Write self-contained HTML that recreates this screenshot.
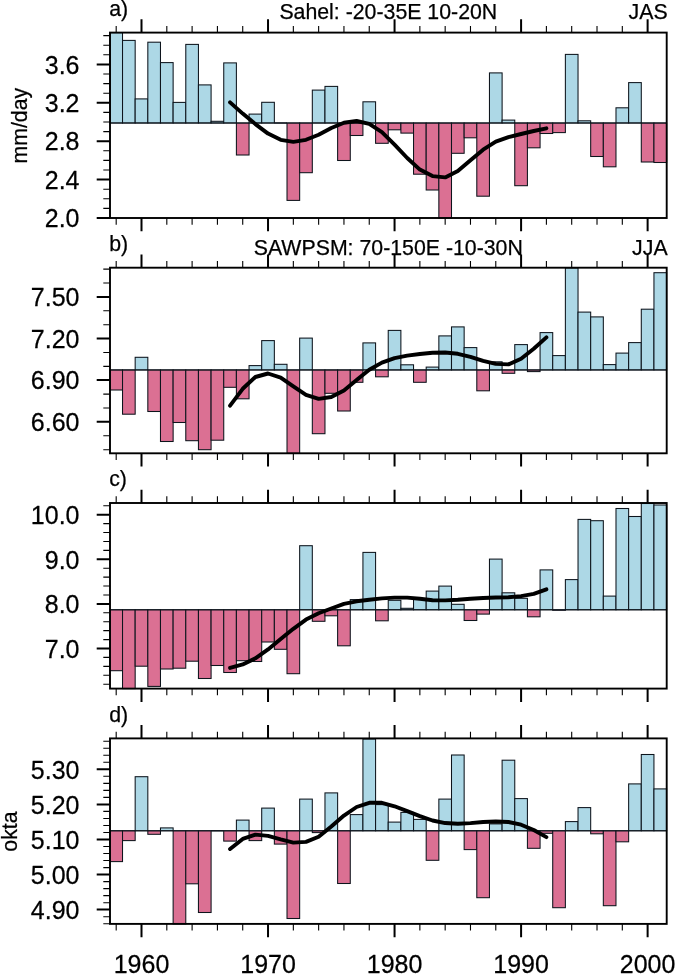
<!DOCTYPE html>
<html><head><meta charset="utf-8"><title>chart</title>
<style>
html,body{margin:0;padding:0;background:#fff;}
body{width:675px;height:974px;overflow:hidden;}
svg{display:block;will-change:transform;font-family:"Liberation Sans",sans-serif;fill:#000;}
text{stroke:#000;stroke-width:0.25px;stroke-linejoin:round;}
</style></head><body>
<svg width="675" height="974" viewBox="0 0 675 974">
<rect x="0" y="0" width="675" height="974" fill="#fff"/>
<g>
<rect x="110.00" y="32.60" width="12.52" height="90.40" fill="#add8e6" stroke="#0d141c" stroke-width="1.05"/>
<rect x="122.52" y="40.40" width="12.65" height="82.60" fill="#add8e6" stroke="#0d141c" stroke-width="1.05"/>
<rect x="135.17" y="98.90" width="12.65" height="24.10" fill="#add8e6" stroke="#0d141c" stroke-width="1.05"/>
<rect x="147.83" y="42.20" width="12.65" height="80.80" fill="#add8e6" stroke="#0d141c" stroke-width="1.05"/>
<rect x="160.48" y="62.60" width="12.65" height="60.40" fill="#add8e6" stroke="#0d141c" stroke-width="1.05"/>
<rect x="173.13" y="102.40" width="12.65" height="20.60" fill="#add8e6" stroke="#0d141c" stroke-width="1.05"/>
<rect x="185.79" y="44.40" width="12.65" height="78.60" fill="#add8e6" stroke="#0d141c" stroke-width="1.05"/>
<rect x="198.44" y="84.90" width="12.65" height="38.10" fill="#add8e6" stroke="#0d141c" stroke-width="1.05"/>
<rect x="211.09" y="121.30" width="12.65" height="1.70" fill="#add8e6" stroke="#0d141c" stroke-width="1.05"/>
<rect x="223.74" y="62.90" width="12.65" height="60.10" fill="#add8e6" stroke="#0d141c" stroke-width="1.05"/>
<rect x="236.40" y="123.00" width="12.65" height="32.00" fill="#db7093" stroke="#0d141c" stroke-width="1.05"/>
<rect x="249.05" y="114.10" width="12.65" height="8.90" fill="#add8e6" stroke="#0d141c" stroke-width="1.05"/>
<rect x="261.70" y="102.30" width="12.65" height="20.70" fill="#add8e6" stroke="#0d141c" stroke-width="1.05"/>
<line x1="274.36" y1="123.00" x2="287.01" y2="123.00" stroke="#0d141c" stroke-width="1.4"/>
<rect x="287.01" y="123.00" width="12.65" height="77.40" fill="#db7093" stroke="#0d141c" stroke-width="1.05"/>
<rect x="299.66" y="123.00" width="12.65" height="49.70" fill="#db7093" stroke="#0d141c" stroke-width="1.05"/>
<rect x="312.32" y="90.10" width="12.65" height="32.90" fill="#add8e6" stroke="#0d141c" stroke-width="1.05"/>
<rect x="324.97" y="86.40" width="12.65" height="36.60" fill="#add8e6" stroke="#0d141c" stroke-width="1.05"/>
<rect x="337.62" y="123.00" width="12.65" height="37.50" fill="#db7093" stroke="#0d141c" stroke-width="1.05"/>
<rect x="350.27" y="123.00" width="12.65" height="12.50" fill="#db7093" stroke="#0d141c" stroke-width="1.05"/>
<rect x="362.93" y="101.80" width="12.65" height="21.20" fill="#add8e6" stroke="#0d141c" stroke-width="1.05"/>
<rect x="375.58" y="123.00" width="12.65" height="20.30" fill="#db7093" stroke="#0d141c" stroke-width="1.05"/>
<rect x="388.23" y="123.00" width="12.65" height="6.80" fill="#db7093" stroke="#0d141c" stroke-width="1.05"/>
<rect x="400.89" y="123.00" width="12.65" height="10.10" fill="#db7093" stroke="#0d141c" stroke-width="1.05"/>
<rect x="413.54" y="123.00" width="12.65" height="51.20" fill="#db7093" stroke="#0d141c" stroke-width="1.05"/>
<rect x="426.19" y="123.00" width="12.65" height="67.00" fill="#db7093" stroke="#0d141c" stroke-width="1.05"/>
<rect x="438.85" y="123.00" width="12.65" height="95.00" fill="#db7093" stroke="#0d141c" stroke-width="1.05"/>
<rect x="451.50" y="123.00" width="12.65" height="30.30" fill="#db7093" stroke="#0d141c" stroke-width="1.05"/>
<rect x="464.15" y="123.00" width="12.65" height="14.80" fill="#db7093" stroke="#0d141c" stroke-width="1.05"/>
<rect x="476.80" y="123.00" width="12.65" height="73.20" fill="#db7093" stroke="#0d141c" stroke-width="1.05"/>
<rect x="489.46" y="72.90" width="12.65" height="50.10" fill="#add8e6" stroke="#0d141c" stroke-width="1.05"/>
<rect x="502.11" y="120.10" width="12.65" height="2.90" fill="#add8e6" stroke="#0d141c" stroke-width="1.05"/>
<rect x="514.76" y="123.00" width="12.65" height="62.70" fill="#db7093" stroke="#0d141c" stroke-width="1.05"/>
<rect x="527.42" y="123.00" width="12.65" height="24.80" fill="#db7093" stroke="#0d141c" stroke-width="1.05"/>
<rect x="540.07" y="123.00" width="12.65" height="10.50" fill="#db7093" stroke="#0d141c" stroke-width="1.05"/>
<rect x="552.72" y="123.00" width="12.65" height="9.60" fill="#db7093" stroke="#0d141c" stroke-width="1.05"/>
<rect x="565.38" y="54.40" width="12.65" height="68.60" fill="#add8e6" stroke="#0d141c" stroke-width="1.05"/>
<rect x="578.03" y="120.80" width="12.65" height="2.20" fill="#add8e6" stroke="#0d141c" stroke-width="1.05"/>
<rect x="590.68" y="123.00" width="12.65" height="33.50" fill="#db7093" stroke="#0d141c" stroke-width="1.05"/>
<rect x="603.33" y="123.00" width="12.65" height="43.80" fill="#db7093" stroke="#0d141c" stroke-width="1.05"/>
<rect x="615.99" y="107.80" width="12.65" height="15.20" fill="#add8e6" stroke="#0d141c" stroke-width="1.05"/>
<rect x="628.64" y="82.60" width="12.65" height="40.40" fill="#add8e6" stroke="#0d141c" stroke-width="1.05"/>
<rect x="641.29" y="123.00" width="12.65" height="39.00" fill="#db7093" stroke="#0d141c" stroke-width="1.05"/>
<rect x="653.95" y="123.00" width="12.65" height="39.50" fill="#db7093" stroke="#0d141c" stroke-width="1.05"/>
<line x1="110.0" y1="123.00" x2="666.7" y2="123.00" stroke="#0d141c" stroke-width="1.05"/>
<path d="M230.07 102.40 L242.72 113.60 L255.38 124.10 L268.03 133.60 L280.68 139.80 L293.34 141.90 L305.99 139.80 L318.64 134.80 L331.30 128.00 L343.95 122.80 L356.60 121.00 L369.25 123.90 L381.91 132.20 L394.56 144.70 L407.21 158.00 L419.87 169.60 L432.52 176.10 L445.17 177.40 L457.82 171.00 L470.48 160.30 L483.13 149.70 L495.78 141.70 L508.44 137.20 L521.09 134.00 L533.74 131.00 L546.40 128.30" fill="none" stroke="#000" stroke-width="3.9" stroke-linecap="round" stroke-linejoin="round"/>
<rect x="110.00" y="32.60" width="556.70" height="185.40" fill="none" stroke="#000" stroke-width="1.90"/>
<path d="M141.50 32.60v-13.30M141.50 218.00v13.30M268.03 32.60v-13.30M268.03 218.00v13.30M394.56 32.60v-13.30M394.56 218.00v13.30M521.09 32.60v-13.30M521.09 218.00v13.30M647.62 32.60v-13.30M647.62 218.00v13.30M110.00 64.40h-13.30M110.00 102.80h-13.30M110.00 141.20h-13.30M110.00 179.60h-13.30M110.00 218.00h-13.30" fill="none" stroke="#000" stroke-width="2.00"/>
<path d="M116.19 32.60v-6.70M116.19 218.00v6.70M166.81 32.60v-6.70M166.81 218.00v6.70M192.11 32.60v-6.70M192.11 218.00v6.70M217.42 32.60v-6.70M217.42 218.00v6.70M242.72 32.60v-6.70M242.72 218.00v6.70M293.34 32.60v-6.70M293.34 218.00v6.70M318.64 32.60v-6.70M318.64 218.00v6.70M343.95 32.60v-6.70M343.95 218.00v6.70M369.25 32.60v-6.70M369.25 218.00v6.70M419.87 32.60v-6.70M419.87 218.00v6.70M445.17 32.60v-6.70M445.17 218.00v6.70M470.48 32.60v-6.70M470.48 218.00v6.70M495.78 32.60v-6.70M495.78 218.00v6.70M546.40 32.60v-6.70M546.40 218.00v6.70M571.70 32.60v-6.70M571.70 218.00v6.70M597.01 32.60v-6.70M597.01 218.00v6.70M622.31 32.60v-6.70M622.31 218.00v6.70M110.00 35.60h-6.70M110.00 45.20h-6.70M110.00 54.80h-6.70M110.00 74.00h-6.70M110.00 83.60h-6.70M110.00 93.20h-6.70M110.00 112.40h-6.70M110.00 122.00h-6.70M110.00 131.60h-6.70M110.00 150.80h-6.70M110.00 160.40h-6.70M110.00 170.00h-6.70M110.00 189.20h-6.70M110.00 198.80h-6.70M110.00 208.40h-6.70" fill="none" stroke="#000" stroke-width="1.10"/>
<text transform="translate(79.5 73.65) scale(1 1.035)" font-size="25" text-anchor="end">3.6</text>
<text transform="translate(79.5 112.05) scale(1 1.035)" font-size="25" text-anchor="end">3.2</text>
<text transform="translate(79.5 150.45) scale(1 1.035)" font-size="25" text-anchor="end">2.8</text>
<text transform="translate(79.5 188.85) scale(1 1.035)" font-size="25" text-anchor="end">2.4</text>
<text transform="translate(79.5 227.25) scale(1 1.035)" font-size="25" text-anchor="end">2.0</text>
</g>
<g>
<rect x="110.00" y="369.90" width="12.52" height="20.10" fill="#db7093" stroke="#0d141c" stroke-width="1.05"/>
<rect x="122.52" y="369.90" width="12.65" height="44.30" fill="#db7093" stroke="#0d141c" stroke-width="1.05"/>
<rect x="135.17" y="357.30" width="12.65" height="12.60" fill="#add8e6" stroke="#0d141c" stroke-width="1.05"/>
<rect x="147.83" y="369.90" width="12.65" height="41.60" fill="#db7093" stroke="#0d141c" stroke-width="1.05"/>
<rect x="160.48" y="369.90" width="12.65" height="71.60" fill="#db7093" stroke="#0d141c" stroke-width="1.05"/>
<rect x="173.13" y="369.90" width="12.65" height="52.60" fill="#db7093" stroke="#0d141c" stroke-width="1.05"/>
<rect x="185.79" y="369.90" width="12.65" height="70.80" fill="#db7093" stroke="#0d141c" stroke-width="1.05"/>
<rect x="198.44" y="369.90" width="12.65" height="79.80" fill="#db7093" stroke="#0d141c" stroke-width="1.05"/>
<rect x="211.09" y="369.90" width="12.65" height="70.30" fill="#db7093" stroke="#0d141c" stroke-width="1.05"/>
<rect x="223.74" y="369.90" width="12.65" height="17.40" fill="#db7093" stroke="#0d141c" stroke-width="1.05"/>
<rect x="236.40" y="369.90" width="12.65" height="28.90" fill="#db7093" stroke="#0d141c" stroke-width="1.05"/>
<rect x="249.05" y="365.60" width="12.65" height="4.30" fill="#add8e6" stroke="#0d141c" stroke-width="1.05"/>
<rect x="261.70" y="340.60" width="12.65" height="29.30" fill="#add8e6" stroke="#0d141c" stroke-width="1.05"/>
<rect x="274.36" y="364.30" width="12.65" height="5.60" fill="#add8e6" stroke="#0d141c" stroke-width="1.05"/>
<rect x="287.01" y="369.90" width="12.65" height="83.40" fill="#db7093" stroke="#0d141c" stroke-width="1.05"/>
<rect x="299.66" y="338.10" width="12.65" height="31.80" fill="#add8e6" stroke="#0d141c" stroke-width="1.05"/>
<rect x="312.32" y="369.90" width="12.65" height="63.80" fill="#db7093" stroke="#0d141c" stroke-width="1.05"/>
<rect x="324.97" y="369.90" width="12.65" height="23.40" fill="#db7093" stroke="#0d141c" stroke-width="1.05"/>
<rect x="337.62" y="369.90" width="12.65" height="41.10" fill="#db7093" stroke="#0d141c" stroke-width="1.05"/>
<rect x="350.27" y="369.90" width="12.65" height="12.40" fill="#db7093" stroke="#0d141c" stroke-width="1.05"/>
<rect x="362.93" y="342.90" width="12.65" height="27.00" fill="#add8e6" stroke="#0d141c" stroke-width="1.05"/>
<rect x="375.58" y="369.90" width="12.65" height="6.90" fill="#db7093" stroke="#0d141c" stroke-width="1.05"/>
<rect x="388.23" y="330.40" width="12.65" height="39.50" fill="#add8e6" stroke="#0d141c" stroke-width="1.05"/>
<rect x="400.89" y="364.80" width="12.65" height="5.10" fill="#add8e6" stroke="#0d141c" stroke-width="1.05"/>
<rect x="413.54" y="369.90" width="12.65" height="12.40" fill="#db7093" stroke="#0d141c" stroke-width="1.05"/>
<rect x="426.19" y="367.10" width="12.65" height="2.80" fill="#add8e6" stroke="#0d141c" stroke-width="1.05"/>
<rect x="438.85" y="335.90" width="12.65" height="34.00" fill="#add8e6" stroke="#0d141c" stroke-width="1.05"/>
<rect x="451.50" y="326.90" width="12.65" height="43.00" fill="#add8e6" stroke="#0d141c" stroke-width="1.05"/>
<rect x="464.15" y="347.60" width="12.65" height="22.30" fill="#add8e6" stroke="#0d141c" stroke-width="1.05"/>
<rect x="476.80" y="369.90" width="12.65" height="20.90" fill="#db7093" stroke="#0d141c" stroke-width="1.05"/>
<rect x="489.46" y="361.80" width="12.65" height="8.10" fill="#add8e6" stroke="#0d141c" stroke-width="1.05"/>
<rect x="502.11" y="369.90" width="12.65" height="3.40" fill="#db7093" stroke="#0d141c" stroke-width="1.05"/>
<rect x="514.76" y="344.60" width="12.65" height="25.30" fill="#add8e6" stroke="#0d141c" stroke-width="1.05"/>
<rect x="527.42" y="369.90" width="12.65" height="1.70" fill="#db7093" stroke="#0d141c" stroke-width="1.05"/>
<rect x="540.07" y="332.60" width="12.65" height="37.30" fill="#add8e6" stroke="#0d141c" stroke-width="1.05"/>
<rect x="552.72" y="355.60" width="12.65" height="14.30" fill="#add8e6" stroke="#0d141c" stroke-width="1.05"/>
<rect x="565.38" y="267.90" width="12.65" height="102.00" fill="#add8e6" stroke="#0d141c" stroke-width="1.05"/>
<rect x="578.03" y="312.10" width="12.65" height="57.80" fill="#add8e6" stroke="#0d141c" stroke-width="1.05"/>
<rect x="590.68" y="316.90" width="12.65" height="53.00" fill="#add8e6" stroke="#0d141c" stroke-width="1.05"/>
<rect x="603.33" y="364.60" width="12.65" height="5.30" fill="#add8e6" stroke="#0d141c" stroke-width="1.05"/>
<rect x="615.99" y="353.10" width="12.65" height="16.80" fill="#add8e6" stroke="#0d141c" stroke-width="1.05"/>
<rect x="628.64" y="342.60" width="12.65" height="27.30" fill="#add8e6" stroke="#0d141c" stroke-width="1.05"/>
<rect x="641.29" y="309.20" width="12.65" height="60.70" fill="#add8e6" stroke="#0d141c" stroke-width="1.05"/>
<rect x="653.95" y="272.70" width="12.65" height="97.20" fill="#add8e6" stroke="#0d141c" stroke-width="1.05"/>
<line x1="110.0" y1="369.90" x2="666.7" y2="369.90" stroke="#0d141c" stroke-width="1.05"/>
<path d="M230.07 405.60 L242.72 388.80 L255.38 377.00 L268.03 373.50 L280.68 377.60 L293.34 386.40 L305.99 394.80 L318.64 398.90 L331.30 397.00 L343.95 390.50 L356.60 380.00 L369.25 369.70 L381.91 362.60 L394.56 358.10 L407.21 355.60 L419.87 354.00 L432.52 352.80 L445.17 352.45 L457.82 353.80 L470.48 356.80 L483.13 360.90 L495.78 363.90 L508.44 364.40 L521.09 358.80 L533.74 348.80 L546.40 337.40" fill="none" stroke="#000" stroke-width="3.9" stroke-linecap="round" stroke-linejoin="round"/>
<rect x="110.00" y="267.70" width="556.70" height="185.60" fill="none" stroke="#000" stroke-width="1.90"/>
<path d="M141.50 267.70v-13.30M141.50 453.30v13.30M268.03 267.70v-13.30M268.03 453.30v13.30M394.56 267.70v-13.30M394.56 453.30v13.30M521.09 267.70v-13.30M521.09 453.30v13.30M647.62 267.70v-13.30M647.62 453.30v13.30M110.00 296.90h-13.30M110.00 338.50h-13.30M110.00 380.10h-13.30M110.00 421.80h-13.30" fill="none" stroke="#000" stroke-width="2.00"/>
<path d="M116.19 267.70v-6.70M116.19 453.30v6.70M166.81 267.70v-6.70M166.81 453.30v6.70M192.11 267.70v-6.70M192.11 453.30v6.70M217.42 267.70v-6.70M217.42 453.30v6.70M242.72 267.70v-6.70M242.72 453.30v6.70M293.34 267.70v-6.70M293.34 453.30v6.70M318.64 267.70v-6.70M318.64 453.30v6.70M343.95 267.70v-6.70M343.95 453.30v6.70M369.25 267.70v-6.70M369.25 453.30v6.70M419.87 267.70v-6.70M419.87 453.30v6.70M445.17 267.70v-6.70M445.17 453.30v6.70M470.48 267.70v-6.70M470.48 453.30v6.70M495.78 267.70v-6.70M495.78 453.30v6.70M546.40 267.70v-6.70M546.40 453.30v6.70M571.70 267.70v-6.70M571.70 453.30v6.70M597.01 267.70v-6.70M597.01 453.30v6.70M622.31 267.70v-6.70M622.31 453.30v6.70M110.00 269.12h-6.70M110.00 283.01h-6.70M110.00 310.79h-6.70M110.00 324.68h-6.70M110.00 352.46h-6.70M110.00 366.35h-6.70M110.00 394.13h-6.70M110.00 408.02h-6.70M110.00 435.80h-6.70M110.00 449.69h-6.70" fill="none" stroke="#000" stroke-width="1.10"/>
<text transform="translate(79.5 306.15) scale(1 1.035)" font-size="25" text-anchor="end">7.50</text>
<text transform="translate(79.5 347.75) scale(1 1.035)" font-size="25" text-anchor="end">7.20</text>
<text transform="translate(79.5 389.35) scale(1 1.035)" font-size="25" text-anchor="end">6.90</text>
<text transform="translate(79.5 431.05) scale(1 1.035)" font-size="25" text-anchor="end">6.60</text>
</g>
<g>
<rect x="110.00" y="609.80" width="12.52" height="60.90" fill="#db7093" stroke="#0d141c" stroke-width="1.05"/>
<rect x="122.52" y="609.80" width="12.65" height="78.80" fill="#db7093" stroke="#0d141c" stroke-width="1.05"/>
<rect x="135.17" y="609.80" width="12.65" height="56.40" fill="#db7093" stroke="#0d141c" stroke-width="1.05"/>
<rect x="147.83" y="609.80" width="12.65" height="76.60" fill="#db7093" stroke="#0d141c" stroke-width="1.05"/>
<rect x="160.48" y="609.80" width="12.65" height="59.20" fill="#db7093" stroke="#0d141c" stroke-width="1.05"/>
<rect x="173.13" y="609.80" width="12.65" height="58.40" fill="#db7093" stroke="#0d141c" stroke-width="1.05"/>
<rect x="185.79" y="609.80" width="12.65" height="51.40" fill="#db7093" stroke="#0d141c" stroke-width="1.05"/>
<rect x="198.44" y="609.80" width="12.65" height="68.70" fill="#db7093" stroke="#0d141c" stroke-width="1.05"/>
<rect x="211.09" y="609.80" width="12.65" height="55.70" fill="#db7093" stroke="#0d141c" stroke-width="1.05"/>
<rect x="223.74" y="609.80" width="12.65" height="62.70" fill="#db7093" stroke="#0d141c" stroke-width="1.05"/>
<rect x="236.40" y="609.80" width="12.65" height="50.90" fill="#db7093" stroke="#0d141c" stroke-width="1.05"/>
<rect x="249.05" y="609.80" width="12.65" height="51.70" fill="#db7093" stroke="#0d141c" stroke-width="1.05"/>
<rect x="261.70" y="609.80" width="12.65" height="32.20" fill="#db7093" stroke="#0d141c" stroke-width="1.05"/>
<rect x="274.36" y="609.80" width="12.65" height="39.50" fill="#db7093" stroke="#0d141c" stroke-width="1.05"/>
<rect x="287.01" y="609.80" width="12.65" height="63.90" fill="#db7093" stroke="#0d141c" stroke-width="1.05"/>
<rect x="299.66" y="545.70" width="12.65" height="64.10" fill="#add8e6" stroke="#0d141c" stroke-width="1.05"/>
<rect x="312.32" y="609.80" width="12.65" height="11.50" fill="#db7093" stroke="#0d141c" stroke-width="1.05"/>
<rect x="324.97" y="609.80" width="12.65" height="6.00" fill="#db7093" stroke="#0d141c" stroke-width="1.05"/>
<rect x="337.62" y="609.80" width="12.65" height="36.00" fill="#db7093" stroke="#0d141c" stroke-width="1.05"/>
<rect x="350.27" y="599.60" width="12.65" height="10.20" fill="#add8e6" stroke="#0d141c" stroke-width="1.05"/>
<rect x="362.93" y="552.40" width="12.65" height="57.40" fill="#add8e6" stroke="#0d141c" stroke-width="1.05"/>
<rect x="375.58" y="609.80" width="12.65" height="11.00" fill="#db7093" stroke="#0d141c" stroke-width="1.05"/>
<rect x="388.23" y="600.30" width="12.65" height="9.50" fill="#add8e6" stroke="#0d141c" stroke-width="1.05"/>
<rect x="400.89" y="608.30" width="12.65" height="1.50" fill="#add8e6" stroke="#0d141c" stroke-width="1.05"/>
<rect x="413.54" y="598.80" width="12.65" height="11.00" fill="#add8e6" stroke="#0d141c" stroke-width="1.05"/>
<rect x="426.19" y="591.10" width="12.65" height="18.70" fill="#add8e6" stroke="#0d141c" stroke-width="1.05"/>
<rect x="438.85" y="586.10" width="12.65" height="23.70" fill="#add8e6" stroke="#0d141c" stroke-width="1.05"/>
<rect x="451.50" y="604.30" width="12.65" height="5.50" fill="#add8e6" stroke="#0d141c" stroke-width="1.05"/>
<rect x="464.15" y="609.80" width="12.65" height="10.70" fill="#db7093" stroke="#0d141c" stroke-width="1.05"/>
<rect x="476.80" y="609.80" width="12.65" height="4.30" fill="#db7093" stroke="#0d141c" stroke-width="1.05"/>
<rect x="489.46" y="559.10" width="12.65" height="50.70" fill="#add8e6" stroke="#0d141c" stroke-width="1.05"/>
<rect x="502.11" y="592.80" width="12.65" height="17.00" fill="#add8e6" stroke="#0d141c" stroke-width="1.05"/>
<rect x="514.76" y="598.30" width="12.65" height="11.50" fill="#add8e6" stroke="#0d141c" stroke-width="1.05"/>
<rect x="527.42" y="609.80" width="12.65" height="7.00" fill="#db7093" stroke="#0d141c" stroke-width="1.05"/>
<rect x="540.07" y="569.90" width="12.65" height="39.90" fill="#add8e6" stroke="#0d141c" stroke-width="1.05"/>
<rect x="552.72" y="609.80" width="12.65" height="0.50" fill="#db7093" stroke="#0d141c" stroke-width="1.05"/>
<rect x="565.38" y="579.60" width="12.65" height="30.20" fill="#add8e6" stroke="#0d141c" stroke-width="1.05"/>
<rect x="578.03" y="519.40" width="12.65" height="90.40" fill="#add8e6" stroke="#0d141c" stroke-width="1.05"/>
<rect x="590.68" y="520.70" width="12.65" height="89.10" fill="#add8e6" stroke="#0d141c" stroke-width="1.05"/>
<rect x="603.33" y="596.10" width="12.65" height="13.70" fill="#add8e6" stroke="#0d141c" stroke-width="1.05"/>
<rect x="615.99" y="508.50" width="12.65" height="101.30" fill="#add8e6" stroke="#0d141c" stroke-width="1.05"/>
<rect x="628.64" y="516.50" width="12.65" height="93.30" fill="#add8e6" stroke="#0d141c" stroke-width="1.05"/>
<rect x="641.29" y="503.50" width="12.65" height="106.30" fill="#add8e6" stroke="#0d141c" stroke-width="1.05"/>
<rect x="653.95" y="505.00" width="12.65" height="104.80" fill="#add8e6" stroke="#0d141c" stroke-width="1.05"/>
<line x1="110.0" y1="609.80" x2="666.7" y2="609.80" stroke="#0d141c" stroke-width="1.05"/>
<path d="M230.07 667.90 L242.72 664.40 L255.38 658.30 L268.03 649.40 L280.68 639.10 L293.34 628.80 L305.99 619.60 L318.64 613.30 L331.30 608.50 L343.95 603.80 L356.60 601.30 L369.25 599.70 L381.91 598.40 L394.56 597.60 L407.21 597.60 L419.87 598.80 L432.52 600.20 L445.17 600.40 L457.82 599.80 L470.48 598.80 L483.13 598.00 L495.78 597.50 L508.44 597.20 L521.09 596.10 L533.74 593.80 L546.40 589.30" fill="none" stroke="#000" stroke-width="3.9" stroke-linecap="round" stroke-linejoin="round"/>
<rect x="110.00" y="503.00" width="556.70" height="185.60" fill="none" stroke="#000" stroke-width="1.90"/>
<path d="M141.50 503.00v-13.30M141.50 688.60v13.30M268.03 503.00v-13.30M268.03 688.60v13.30M394.56 503.00v-13.30M394.56 688.60v13.30M521.09 503.00v-13.30M521.09 688.60v13.30M647.62 503.00v-13.30M647.62 688.60v13.30M110.00 514.70h-13.30M110.00 559.30h-13.30M110.00 603.90h-13.30M110.00 648.60h-13.30" fill="none" stroke="#000" stroke-width="2.00"/>
<path d="M116.19 503.00v-6.70M116.19 688.60v6.70M166.81 503.00v-6.70M166.81 688.60v6.70M192.11 503.00v-6.70M192.11 688.60v6.70M217.42 503.00v-6.70M217.42 688.60v6.70M242.72 503.00v-6.70M242.72 688.60v6.70M293.34 503.00v-6.70M293.34 688.60v6.70M318.64 503.00v-6.70M318.64 688.60v6.70M343.95 503.00v-6.70M343.95 688.60v6.70M369.25 503.00v-6.70M369.25 688.60v6.70M419.87 503.00v-6.70M419.87 688.60v6.70M445.17 503.00v-6.70M445.17 688.60v6.70M470.48 503.00v-6.70M470.48 688.60v6.70M495.78 503.00v-6.70M495.78 688.60v6.70M546.40 503.00v-6.70M546.40 688.60v6.70M571.70 503.00v-6.70M571.70 688.60v6.70M597.01 503.00v-6.70M597.01 688.60v6.70M622.31 503.00v-6.70M622.31 688.60v6.70M110.00 505.78h-6.70M110.00 523.62h-6.70M110.00 532.54h-6.70M110.00 541.46h-6.70M110.00 550.38h-6.70M110.00 568.22h-6.70M110.00 577.14h-6.70M110.00 586.06h-6.70M110.00 594.98h-6.70M110.00 612.82h-6.70M110.00 621.74h-6.70M110.00 630.66h-6.70M110.00 639.58h-6.70M110.00 657.42h-6.70M110.00 666.34h-6.70M110.00 675.26h-6.70M110.00 684.18h-6.70" fill="none" stroke="#000" stroke-width="1.10"/>
<text transform="translate(79.5 523.95) scale(1 1.035)" font-size="25" text-anchor="end">10.0</text>
<text transform="translate(79.5 568.55) scale(1 1.035)" font-size="25" text-anchor="end">9.0</text>
<text transform="translate(79.5 613.15) scale(1 1.035)" font-size="25" text-anchor="end">8.0</text>
<text transform="translate(79.5 657.85) scale(1 1.035)" font-size="25" text-anchor="end">7.0</text>
</g>
<g>
<rect x="110.00" y="830.80" width="12.52" height="30.80" fill="#db7093" stroke="#0d141c" stroke-width="1.05"/>
<rect x="122.52" y="830.80" width="12.65" height="9.80" fill="#db7093" stroke="#0d141c" stroke-width="1.05"/>
<rect x="135.17" y="776.70" width="12.65" height="54.10" fill="#add8e6" stroke="#0d141c" stroke-width="1.05"/>
<rect x="147.83" y="830.80" width="12.65" height="3.50" fill="#db7093" stroke="#0d141c" stroke-width="1.05"/>
<rect x="160.48" y="827.90" width="12.65" height="2.90" fill="#add8e6" stroke="#0d141c" stroke-width="1.05"/>
<rect x="173.13" y="830.80" width="12.65" height="93.10" fill="#db7093" stroke="#0d141c" stroke-width="1.05"/>
<rect x="185.79" y="830.80" width="12.65" height="53.00" fill="#db7093" stroke="#0d141c" stroke-width="1.05"/>
<rect x="198.44" y="830.80" width="12.65" height="81.70" fill="#db7093" stroke="#0d141c" stroke-width="1.05"/>
<line x1="211.09" y1="830.80" x2="223.74" y2="830.80" stroke="#0d141c" stroke-width="1.4"/>
<rect x="223.74" y="830.80" width="12.65" height="10.30" fill="#db7093" stroke="#0d141c" stroke-width="1.05"/>
<rect x="236.40" y="820.10" width="12.65" height="10.70" fill="#add8e6" stroke="#0d141c" stroke-width="1.05"/>
<rect x="249.05" y="830.80" width="12.65" height="9.80" fill="#db7093" stroke="#0d141c" stroke-width="1.05"/>
<rect x="261.70" y="808.10" width="12.65" height="22.70" fill="#add8e6" stroke="#0d141c" stroke-width="1.05"/>
<rect x="274.36" y="830.80" width="12.65" height="13.30" fill="#db7093" stroke="#0d141c" stroke-width="1.05"/>
<rect x="287.01" y="830.80" width="12.65" height="87.70" fill="#db7093" stroke="#0d141c" stroke-width="1.05"/>
<rect x="299.66" y="799.10" width="12.65" height="31.70" fill="#add8e6" stroke="#0d141c" stroke-width="1.05"/>
<rect x="312.32" y="830.80" width="12.65" height="1.80" fill="#db7093" stroke="#0d141c" stroke-width="1.05"/>
<rect x="324.97" y="792.90" width="12.65" height="37.90" fill="#add8e6" stroke="#0d141c" stroke-width="1.05"/>
<rect x="337.62" y="830.80" width="12.65" height="52.70" fill="#db7093" stroke="#0d141c" stroke-width="1.05"/>
<rect x="350.27" y="814.60" width="12.65" height="16.20" fill="#add8e6" stroke="#0d141c" stroke-width="1.05"/>
<rect x="362.93" y="739.00" width="12.65" height="91.80" fill="#add8e6" stroke="#0d141c" stroke-width="1.05"/>
<rect x="375.58" y="804.60" width="12.65" height="26.20" fill="#add8e6" stroke="#0d141c" stroke-width="1.05"/>
<rect x="388.23" y="822.10" width="12.65" height="8.70" fill="#add8e6" stroke="#0d141c" stroke-width="1.05"/>
<rect x="400.89" y="812.40" width="12.65" height="18.40" fill="#add8e6" stroke="#0d141c" stroke-width="1.05"/>
<rect x="413.54" y="819.40" width="12.65" height="11.40" fill="#add8e6" stroke="#0d141c" stroke-width="1.05"/>
<rect x="426.19" y="830.80" width="12.65" height="29.50" fill="#db7093" stroke="#0d141c" stroke-width="1.05"/>
<rect x="438.85" y="799.10" width="12.65" height="31.70" fill="#add8e6" stroke="#0d141c" stroke-width="1.05"/>
<rect x="451.50" y="755.00" width="12.65" height="75.80" fill="#add8e6" stroke="#0d141c" stroke-width="1.05"/>
<rect x="464.15" y="830.80" width="12.65" height="18.80" fill="#db7093" stroke="#0d141c" stroke-width="1.05"/>
<rect x="476.80" y="830.80" width="12.65" height="66.90" fill="#db7093" stroke="#0d141c" stroke-width="1.05"/>
<rect x="489.46" y="823.90" width="12.65" height="6.90" fill="#add8e6" stroke="#0d141c" stroke-width="1.05"/>
<rect x="502.11" y="760.20" width="12.65" height="70.60" fill="#add8e6" stroke="#0d141c" stroke-width="1.05"/>
<rect x="514.76" y="798.60" width="12.65" height="32.20" fill="#add8e6" stroke="#0d141c" stroke-width="1.05"/>
<rect x="527.42" y="830.80" width="12.65" height="17.50" fill="#db7093" stroke="#0d141c" stroke-width="1.05"/>
<rect x="540.07" y="830.80" width="12.65" height="2.50" fill="#db7093" stroke="#0d141c" stroke-width="1.05"/>
<rect x="552.72" y="830.80" width="12.65" height="76.90" fill="#db7093" stroke="#0d141c" stroke-width="1.05"/>
<rect x="565.38" y="821.60" width="12.65" height="9.20" fill="#add8e6" stroke="#0d141c" stroke-width="1.05"/>
<rect x="578.03" y="807.60" width="12.65" height="23.20" fill="#add8e6" stroke="#0d141c" stroke-width="1.05"/>
<rect x="590.68" y="830.80" width="12.65" height="3.00" fill="#db7093" stroke="#0d141c" stroke-width="1.05"/>
<rect x="603.33" y="830.80" width="12.65" height="74.90" fill="#db7093" stroke="#0d141c" stroke-width="1.05"/>
<rect x="615.99" y="830.80" width="12.65" height="11.00" fill="#db7093" stroke="#0d141c" stroke-width="1.05"/>
<rect x="628.64" y="783.90" width="12.65" height="46.90" fill="#add8e6" stroke="#0d141c" stroke-width="1.05"/>
<rect x="641.29" y="754.50" width="12.65" height="76.30" fill="#add8e6" stroke="#0d141c" stroke-width="1.05"/>
<rect x="653.95" y="788.90" width="12.65" height="41.90" fill="#add8e6" stroke="#0d141c" stroke-width="1.05"/>
<line x1="110.0" y1="830.80" x2="666.7" y2="830.80" stroke="#0d141c" stroke-width="1.05"/>
<path d="M230.07 849.00 L242.72 838.90 L255.38 834.60 L268.03 835.90 L280.68 839.40 L293.34 842.60 L305.99 841.90 L318.64 836.80 L331.30 826.50 L343.95 815.60 L356.60 807.00 L369.25 802.80 L381.91 802.80 L394.56 806.30 L407.21 811.10 L419.87 816.10 L432.52 820.50 L445.17 823.05 L457.82 823.80 L470.48 823.10 L483.13 822.00 L495.78 821.50 L508.44 822.00 L521.09 824.70 L533.74 830.00 L546.40 837.10" fill="none" stroke="#000" stroke-width="3.9" stroke-linecap="round" stroke-linejoin="round"/>
<rect x="110.00" y="738.40" width="556.70" height="185.50" fill="none" stroke="#000" stroke-width="1.90"/>
<path d="M141.50 738.40v-13.30M141.50 923.90v13.30M268.03 738.40v-13.30M268.03 923.90v13.30M394.56 738.40v-13.30M394.56 923.90v13.30M521.09 738.40v-13.30M521.09 923.90v13.30M647.62 738.40v-13.30M647.62 923.90v13.30M110.00 769.30h-13.30M110.00 804.40h-13.30M110.00 839.50h-13.30M110.00 874.50h-13.30M110.00 909.60h-13.30" fill="none" stroke="#000" stroke-width="2.00"/>
<path d="M116.19 738.40v-6.70M116.19 923.90v6.70M166.81 738.40v-6.70M166.81 923.90v6.70M192.11 738.40v-6.70M192.11 923.90v6.70M217.42 738.40v-6.70M217.42 923.90v6.70M242.72 738.40v-6.70M242.72 923.90v6.70M293.34 738.40v-6.70M293.34 923.90v6.70M318.64 738.40v-6.70M318.64 923.90v6.70M343.95 738.40v-6.70M343.95 923.90v6.70M369.25 738.40v-6.70M369.25 923.90v6.70M419.87 738.40v-6.70M419.87 923.90v6.70M445.17 738.40v-6.70M445.17 923.90v6.70M470.48 738.40v-6.70M470.48 923.90v6.70M495.78 738.40v-6.70M495.78 923.90v6.70M546.40 738.40v-6.70M546.40 923.90v6.70M571.70 738.40v-6.70M571.70 923.90v6.70M597.01 738.40v-6.70M597.01 923.90v6.70M622.31 738.40v-6.70M622.31 923.90v6.70M110.00 741.22h-6.70M110.00 748.24h-6.70M110.00 755.26h-6.70M110.00 762.28h-6.70M110.00 776.32h-6.70M110.00 783.34h-6.70M110.00 790.36h-6.70M110.00 797.38h-6.70M110.00 811.42h-6.70M110.00 818.44h-6.70M110.00 825.46h-6.70M110.00 832.48h-6.70M110.00 846.52h-6.70M110.00 853.54h-6.70M110.00 860.56h-6.70M110.00 867.58h-6.70M110.00 881.62h-6.70M110.00 888.64h-6.70M110.00 895.66h-6.70M110.00 902.68h-6.70M110.00 916.72h-6.70M110.00 923.74h-6.70" fill="none" stroke="#000" stroke-width="1.10"/>
<text transform="translate(79.5 778.55) scale(1 1.035)" font-size="25" text-anchor="end">5.30</text>
<text transform="translate(79.5 813.65) scale(1 1.035)" font-size="25" text-anchor="end">5.20</text>
<text transform="translate(79.5 848.75) scale(1 1.035)" font-size="25" text-anchor="end">5.10</text>
<text transform="translate(79.5 883.75) scale(1 1.035)" font-size="25" text-anchor="end">5.00</text>
<text transform="translate(79.5 918.85) scale(1 1.035)" font-size="25" text-anchor="end">4.90</text>
</g>
<text x="109.2" y="15.80" font-size="21.3">a)</text>
<text x="388.3" y="19.40" font-size="21.3" text-anchor="middle">Sahel: -20-35E 10-20N</text>
<text x="667.6" y="19.40" font-size="21.3" text-anchor="end">JAS</text>
<text x="109.2" y="250.90" font-size="21.3">b)</text>
<text x="388.3" y="254.50" font-size="21.3" text-anchor="middle">SAWPSM: 70-150E -10-30N</text>
<text x="667.6" y="254.50" font-size="21.3" text-anchor="end">JJA</text>
<text x="109.2" y="486.20" font-size="21.3">c)</text>
<text x="109.2" y="721.60" font-size="21.3">d)</text>
<text transform="translate(27.1 125.7) rotate(-90)" font-size="21.3" text-anchor="middle">mm/day</text>
<text transform="translate(16.9 831.5) rotate(-90)" font-size="21.3" text-anchor="middle">okta</text>
<text transform="translate(141.50 973.4) scale(1 1.035)" font-size="25" text-anchor="middle">1960</text>
<text transform="translate(268.03 973.4) scale(1 1.035)" font-size="25" text-anchor="middle">1970</text>
<text transform="translate(394.56 973.4) scale(1 1.035)" font-size="25" text-anchor="middle">1980</text>
<text transform="translate(521.09 973.4) scale(1 1.035)" font-size="25" text-anchor="middle">1990</text>
<text transform="translate(647.62 973.4) scale(1 1.035)" font-size="25" text-anchor="middle">2000</text>
</svg>
</body></html>
